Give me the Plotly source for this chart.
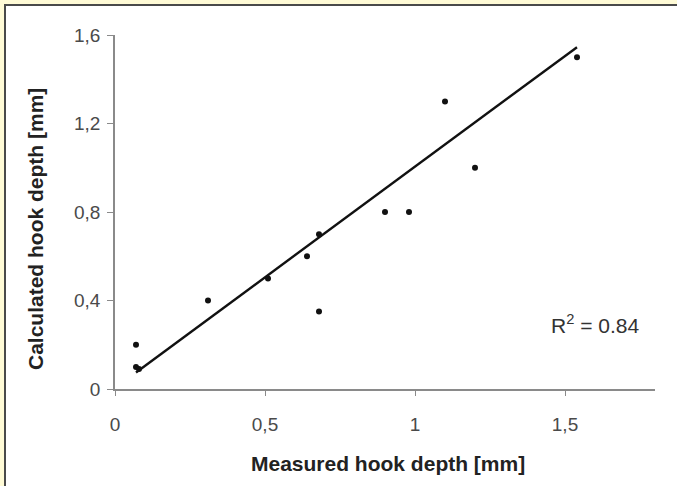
import plotly.graph_objects as go
import numpy as np

# Data
measured = [0.07, 0.07, 0.08, 0.31, 0.51, 0.64, 0.68, 0.68, 0.90, 0.98, 1.10, 1.20, 1.54]
calculated = [0.20, 0.10, 0.09, 0.40, 0.50, 0.60, 0.70, 0.35, 0.80, 0.80, 1.30, 1.00, 1.50]

trend_slope = 1.0
trend_intercept = 0.005
r2_text = "R<sup>2</sup> = 0.84"
x_title = "<b>Measured hook depth [mm]</b>"
y_title = "<b>Calculated hook depth [mm]</b>"

x_tickvals = [0, 0.5, 1, 1.5]
x_ticktext = ["0", "0,5", "1", "1,5"]
y_tickvals = [0, 0.4, 0.8, 1.2, 1.6]
y_ticktext = ["0", "0,4", "0,8", "1,2", "1,6"]

W, H = 677, 486
L, R, T, B = 115, 22, 35, 97
pw, ph = W - L - R, H - T - B

tx = np.array([min(measured), max(measured)])
ty = trend_slope * tx + trend_intercept

fig = go.Figure()
fig.add_trace(go.Scatter(x=tx, y=ty, mode="lines",
                         line=dict(color="#111111", width=2.4), showlegend=False))
fig.add_trace(go.Scatter(x=measured, y=calculated, mode="markers",
                         marker=dict(color="#111111", size=6), showlegend=False))

font = "Liberation Sans, Arial, sans-serif"
axcol = "#8a8a8a"
tickfont = dict(family=font, size=19, color="#4a4a4a")
fig.update_xaxes(range=[0, 1.8], tickvals=x_tickvals, ticktext=x_ticktext,
                 showgrid=False, zeroline=False, showline=True, linecolor=axcol, linewidth=1.6,
                 ticks="outside", ticklen=5, tickcolor=axcol, tickwidth=1,
                 tickfont=tickfont, ticklabelstandoff=12)
fig.update_yaxes(range=[0, 1.6], tickvals=y_tickvals, ticktext=y_ticktext,
                 showgrid=False, zeroline=False, showline=True, linecolor=axcol, linewidth=1.6,
                 ticks="outside", ticklen=6, tickcolor=axcol, tickwidth=1,
                 tickfont=tickfont, ticklabelstandoff=3)

def px_x(p):
    return (p - L) / pw

def px_y(p):
    return (H - B - p) / ph

fig.add_shape(type="rect", xref="paper", yref="paper",
              x0=px_x(5), x1=px_x(800), y0=px_y(5), y1=px_y(700),
              line=dict(color="#4a4a4a", width=2), fillcolor="white", layer="below")

titlefont = dict(family=font, size=21, color="#222222")
fig.add_annotation(x=px_x(388), y=px_y(464), xref="paper", yref="paper", text=x_title,
                   showarrow=False, xanchor="center", yanchor="middle", font=titlefont)
fig.add_annotation(x=px_x(36), y=px_y(229), xref="paper", yref="paper", text=y_title,
                   showarrow=False, xanchor="center", yanchor="middle", textangle=-90,
                   font=titlefont)

fig.add_annotation(x=1.445, y=0.295, xref="x", yref="y", text=r2_text, showarrow=False,
                   xanchor="left", yanchor="middle",
                   font=dict(family=font, size=21, color="#333333"))

fig.update_layout(width=W, height=H, margin=dict(l=L, r=R, t=T, b=B),
                  paper_bgcolor="#FFFBD6", plot_bgcolor="rgba(0,0,0,0)")

fig.write_html("out.html")
